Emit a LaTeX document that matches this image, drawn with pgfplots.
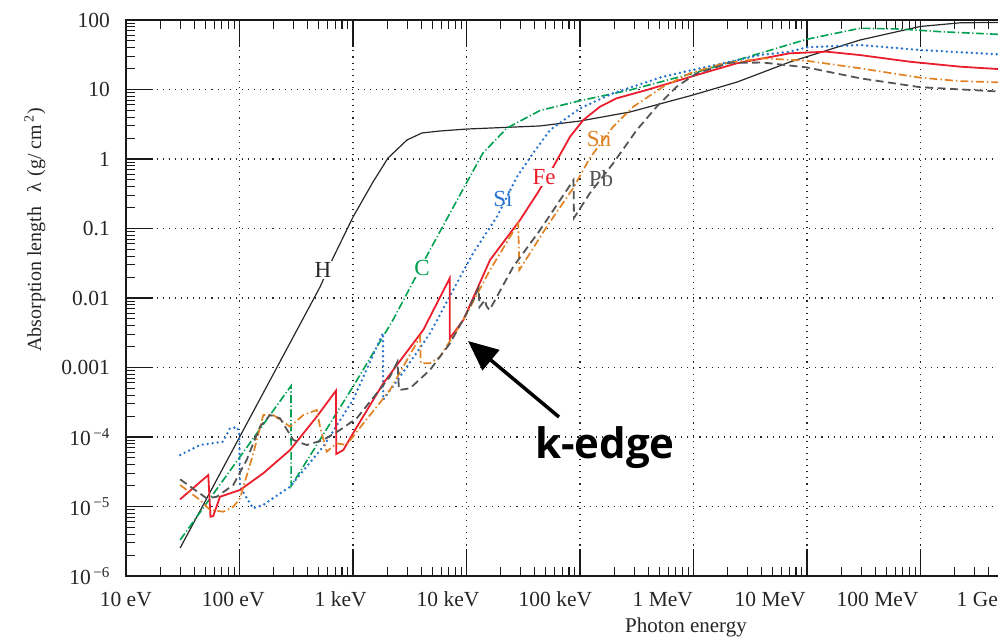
\documentclass[border=0pt]{standalone}
\usepackage{fontspec}
\setmainfont{Liberation Serif}
\newfontfamily\kfont{Open Sans}
\usepackage{pgfplots}
\pgfplotsset{compat=1.18}
\usetikzlibrary{arrows.meta}
\definecolor{cH}{RGB}{40,40,40}
\definecolor{cC}{RGB}{0,160,80}
\definecolor{cSi}{RGB}{40,115,205}
\definecolor{cFe}{RGB}{235,30,45}
\definecolor{cSn}{RGB}{225,130,35}
\definecolor{cPb}{RGB}{85,85,85}
\begin{document}
\begin{tikzpicture}[x=1pt,y=1pt]
\useasboundingbox (0,0) rectangle (998,638);
\clip (0,0) rectangle (998,638);
\begin{axis}[
  at={(126pt,62pt)}, anchor=south west,
  scale only axis, width=908pt, height=556pt,
  xmode=log, ymode=log,
  xmin=1e1, xmax=1e9, ymin=1e-6, ymax=1e2,
  xtick={1e1,1e2,1e3,1e4,1e5,1e6,1e7,1e8,1e9},
  xticklabels={},
  ytick={1e-6,1e-5,1e-4,1e-3,1e-2,1e-1,1,10,100},
  yticklabels={10\textsuperscript{\,−6},10\textsuperscript{\,−5},10\textsuperscript{\,−4},0.001,0.01,0.1,1,10,100},
  grid=major,
  major grid style={black!85, line width=1.1pt, dash pattern=on 1.1pt off 5pt},
  tick align=inside,
  major tick length=27.5pt, minor tick length=9pt,
  every tick/.style={black!90, line width=1.1pt},
  axis line style={black!90, line width=1.2pt},
  yticklabel style={font=\fontsize{21.5}{24}\selectfont, anchor=east, inner sep=0pt, xshift=-16pt, text=black!85},
]
% H
\addplot[cH, line width=1.2pt] coordinates {
(30,2.53e-6) (512,1.44e-2) (667,3.77e-2) (1000,0.146) (1500,0.467) (2032,1.03)
(2992,1.88) (4055,2.37) (5848,2.53) (10090,2.70) (44460,2.99) (1e5,3.52)
(2.76e5,4.75) (9.91e5,8.34) (2.42e6,12.8) (7.08e6,24.9) (2.93e7,51.5)
(9.91e7,80.6) (2.23e8,91.1) (1e9,93.6)};
% C
\addplot[cC, line width=1.6pt, dash pattern=on 8pt off 2.5pt on 1.2pt off 2.5pt] coordinates {
(30,3.30e-6) (284,5.42e-4) (285,1.97e-5) (1000,5.30e-4) (2249,4.82e-3)
(4764,4.91e-2) (10100,0.467) (13960,1.22) (22750,2.79) (44460,4.99)
(1e5,6.90) (2.76e5,9.84) (9.91e5,17.1) (3.85e6,33.2) (9.93e6,52.8)
(2.93e7,76.0) (6.59e7,74.2) (1.49e8,67.9) (4.82e8,62.2) (1e9,59.8)};
% Si
\addplot[cSi, line width=2.7pt, dash pattern=on 0pt off 5pt, line cap=round] coordinates {
(30,5.51e-5) (44.9,7.67e-5) (71.6,8.55e-5) (82.4,1.33e-4) (95.1,1.39e-4)
(99.5,1.14e-4) (101,1.91e-5) (131.5,9.42e-6) (161,1.05e-5) (279,1.93e-5)
(545,7.25e-5) (1000,3.41e-4) (1837,3.13e-3) (1845,3.41e-4) (2992,1.03e-3)
(4764,3.10e-3) (6730,8.91e-3) (11400,4.40e-2) (18570,0.148) (27860,0.556)
(38550,1.21) (54450,2.61) (1e5,5.36) (1.95e5,8.81) (5.38e5,15.3)
(2.10e6,25.1) (3.85e6,31.3) (7.08e6,35.0) (9.93e6,40.5) (2.93e7,43.7)
(9.91e7,37.0) (4.82e8,32.1) (1e9,30.8)};
% Fe
\addplot[cFe, line width=1.8pt] coordinates {
(30,1.27e-5) (53.1,2.84e-5) (55.5,7.13e-6) (58.7,7.30e-6) (67.3,1.38e-5)
(101,1.73e-5) (162,3.01e-5) (279,6.50e-5) (479,1.96e-4) (708,4.64e-4)
(712,5.69e-5) (822,6.50e-5) (1000,1.13e-4) (1849,5.93e-4) (4159,3.47e-3)
(7110,1.92e-2) (7120,2.63e-3) (9376,4.82e-3) (16110,3.52e-2) (29580,0.132)
(42950,0.338) (58210,0.775) (81660,2.09) (1.07e5,3.64) (1.50e5,5.66)
(2.10e5,7.47) (3.87e5,9.84) (1.07e6,16.2) (2.40e6,23.8) (7.08e6,33.2)
(1.49e7,35.0) (2.93e7,31.3) (8.07e7,25.1) (2.23e8,21.3) (4.82e8,19.7) (1e9,19.1)};
% Sn
\addplot[cSn, line width=1.7pt, dash pattern=on 8pt off 3pt on 1.5pt off 3pt] coordinates {
(30,2.04e-5) (44.9,1.24e-5) (54.9,8.91e-6) (72.0,8.42e-6) (88.1,9.93e-6)
(101,1.31e-5) (132.4,5.82e-5) (162,2.07e-4) (198.6,2.07e-4) (279,1.41e-4)
(365,2.07e-4) (479,2.45e-4) (512,1.41e-4) (586,6.14e-5) (718,8.12e-5)
(879,7.67e-5) (1079,1.19e-4) (2118,4.74e-4) (3900,2.77e-3) (3950,1.16e-3)
(4764,1.15e-3) (5848,1.43e-3) (9376,4.82e-3) (16110,2.53e-2) (28580,0.119)
(29200,2.53e-2) (50930,0.106) (87300,0.383) (1.22e5,1.03) (1.96e5,2.92)
(2.95e5,5.66) (5.42e5,11.0) (9.31e5,17.1) (1.83e6,23.8) (4.12e6,28.1)
(9.93e6,25.9) (2.93e7,20.2) (9.91e7,14.8) (2.23e8,13.2) (4.82e8,12.7) (1e9,12.4)};
% Pb
\addplot[cPb, line width=1.8pt, dash pattern=on 8pt off 4.5pt] coordinates {
(30,2.46e-5) (51.4,1.31e-5) (63.0,1.38e-5) (88.1,2.04e-5) (115.6,4.67e-5)
(151.7,1.41e-4) (185.7,2.07e-4) (227.5,1.86e-4) (298,9.06e-5) (391,7.67e-5)
(547,9.06e-5) (767,1.26e-4) (1079,1.86e-4) (2118,7.38e-4) (2466,1.21e-3)
(2541,4.74e-4) (3177,5.02e-4) (4764,9.20e-4) (7161,2.23e-3) (10050,6.08e-3)
(12760,1.39e-2) (13030,7.43e-3) (14550,9.36e-3) (15000,7.67e-3) (15960,6.71e-3)
(25820,2.82e-2) (44460,9.51e-2) (87700,0.499) (88500,0.142) (1.22e5,0.321)
(1.96e5,0.867) (3.16e5,2.61) (4.74e5,5.66) (7.11e5,11.0) (1.07e6,17.1)
(2.10e6,24.3) (4.12e6,24.4) (9.93e6,20.8) (2.93e7,14.5) (9.91e7,10.8)
(4.82e8,9.36) (1e9,9.20)};
\end{axis}
% x tick labels (as placed in the reference)
\begin{scope}[every node/.style={anchor=base, inner sep=0pt, text=black!85, font=\fontsize{21.5}{24}\selectfont}]
\node at (125.8,31.3) {10 eV};
\node at (233.2,31.3) {100 eV};
\node at (340.6,31.3) {1 keV};
\node at (448.0,31.3) {10 keV};
\node at (555.4,31.3) {100 keV};
\node at (662.8,31.3) {1 MeV};
\node at (770.2,31.3) {10 MeV};
\node at (877.6,31.3) {100 MeV};
\node at (985.0,31.3) {1 GeV};
\end{scope}
% curve labels
\node[fill=white, inner sep=1pt, text=cH, font=\fontsize{23}{26}\selectfont] at (323,368) {H};
\node[fill=white, inner sep=1pt, text=cC, font=\fontsize{23}{26}\selectfont] at (422,370) {C};
\node[inner sep=1pt, text=cSi, font=\fontsize{23}{26}\selectfont] at (503,439) {Si};
\node[fill=white, inner sep=1pt, text=cFe, font=\fontsize{23}{26}\selectfont] at (544,461) {Fe};
\node[inner sep=1pt, text=cSn, font=\fontsize{23}{26}\selectfont] at (599,499) {Sn};
\node[inner sep=1pt, text=cPb, font=\fontsize{23}{26}\selectfont] at (601,459) {Pb};
% axis labels
\node[font=\fontsize{21}{24}\selectfont, text=black!85] at (686,11) {Photon energy};
\node[rotate=90, font=\fontsize{20}{24}\selectfont, text=black!85] at (35,408) {Absorption length\hspace{14pt}λ\,\,(g/ cm\textsuperscript{\,2})};
% annotation
\draw[line width=3.5pt, -{Triangle[length=30pt,width=26pt]}] (559,221) -- (468,297);
\node[anchor=base west, inner sep=0pt, font=\kfont\bfseries\fontsize{42}{48}\selectfont] at (535,180) {k-edge};
\end{tikzpicture}
\end{document}
